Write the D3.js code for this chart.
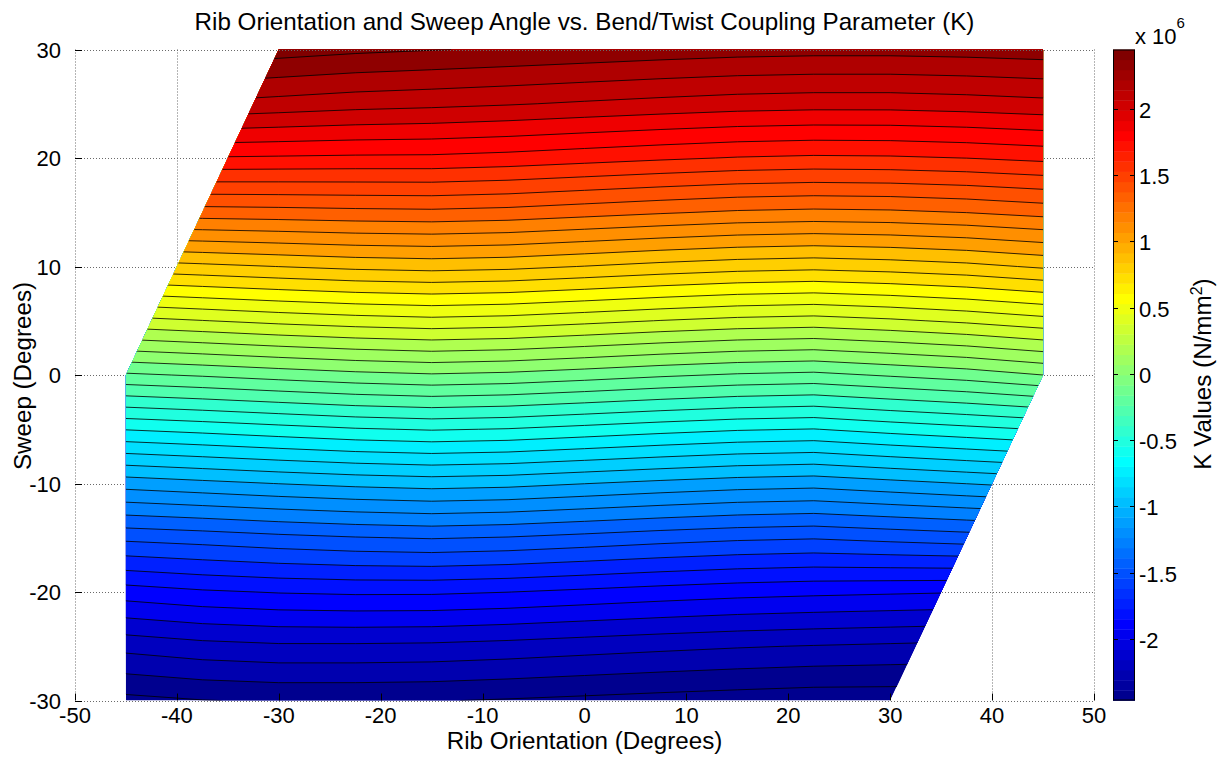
<!DOCTYPE html>
<html>
<head>
<meta charset="utf-8">
<script src="https://cdn.jsdelivr.net/npm/d3@7"></script>
<style>
  body { margin: 0; background: #fff; }
  text { font-family: "Liberation Sans", Arial, Helvetica, sans-serif; fill: #000; }
</style>
</head>
<body>
<svg id="chart" width="1224" height="760"></svg>
<script>
// Grid axes of the K table
const ribAngles   = [-45, -37.5, -30, -22.5, -15, -7.5, 0, 7.5, 15, 22.5, 30, 37.5, 45];
const sweepAngles = [-30, -25, -20, -15, -10, -5, 0, 5, 10, 15, 20, 25, 30];

// K values (x10^6 N/mm^2), one row per sweep angle, one entry per rib angle.
// null = rib/sweep combination outside the analysed range.
const kSweepM30 = [-2.429, -2.403, -2.390, -2.390, -2.395, -2.408, -2.423, -2.438, -2.451, -2.463, -2.463, null, null];
const kSweepM25 = [-2.167, -2.133, -2.116, -2.116, -2.121, -2.136, -2.156, -2.175, -2.192, -2.205, -2.216, null, null];
const kSweepM20 = [-1.848, -1.814, -1.794, -1.784, -1.785, -1.799, -1.821, -1.844, -1.864, -1.877, -1.887, null, null];
const kSweepM15 = [-1.476, -1.454, -1.427, -1.406, -1.393, -1.406, -1.431, -1.458, -1.480, -1.492, -1.469, -1.446, null];
const kSweepM10 = [-1.055, -1.026, -0.998, -0.974, -0.958, -0.970, -0.998, -1.026, -1.051, -1.064, -1.031, -0.998, null];
const kSweepM5  = [-0.595, -0.568, -0.538, -0.509, -0.492, -0.505, -0.534, -0.564, -0.590, -0.603, -0.564, -0.529, null];
const kSweep0   = [-0.116, -0.089, -0.058, -0.029, -0.010, -0.024, -0.053, -0.085, -0.111, -0.125, -0.089, -0.053, 0.000];
const kSweep5   = [null, 0.397, 0.428, 0.453, 0.470, 0.457, 0.428, 0.397, 0.371, 0.358, 0.384, 0.419, 0.464];
const kSweep10  = [null, 0.876, 0.901, 0.925, 0.937, 0.925, 0.897, 0.867, 0.842, 0.829, 0.846, 0.872, 0.914];
const kSweep15  = [null, 1.354, 1.362, 1.372, 1.378, 1.365, 1.338, 1.311, 1.287, 1.276, 1.283, 1.303, 1.335];
const kSweep20  = [null, null, 1.787, 1.781, 1.779, 1.763, 1.739, 1.715, 1.694, 1.683, 1.687, 1.701, 1.725];
const kSweep25  = [null, null, 2.162, 2.139, 2.125, 2.108, 2.087, 2.067, 2.049, 2.040, 2.040, 2.052, 2.070];
const kSweep30  = [null, null, 2.446, 2.421, 2.404, 2.388, 2.372, 2.355, 2.341, 2.334, 2.334, 2.341, 2.353];

// Boundary of the analysed rib/sweep region
const regionRib   = [-45, 30, 45, 45, -30, -45];
const regionSweep = [-30, -30, 0, 30, 30, 0];

// Axis ticks
const xTicks  = [-50, -40, -30, -20, -10, 0, 10, 20, 30, 40, 50];
const yTicks  = [-30, -20, -10, 0, 10, 20, 30];
const cbTicks = [-2, -1.5, -1, -0.5, 0, 0.5, 1, 1.5, 2];

// Contour levels (x10^6), evenly spaced
const levelStep = 0.1;
const levelMin = -2.4, levelMax = 2.4;

const kRows = [kSweepM30, kSweepM25, kSweepM20, kSweepM15, kSweepM10, kSweepM5,
               kSweep0, kSweep5, kSweep10, kSweep15, kSweep20, kSweep25, kSweep30];

// ---------------------------------------------------------------------------
const svg = d3.select("#chart");
const plot = { left: 75, right: 1094, top: 49.5, bottom: 700.5 };

const x = d3.scaleLinear().domain([-50, 50]).range([plot.left, plot.right]);
const y = d3.scaleLinear().domain([-30, 30]).range([plot.bottom, plot.top]);

// MATLAB-style jet colormap with 64 entries
function jet64(i) {
  const n = i + 1;
  const r = n <= 24 ? 0 : n <= 40 ? (n - 24) / 16 : n <= 56 ? 1 : (72 - n) / 16;
  const g = n <= 8 ? 0 : n <= 24 ? (n - 8) / 16 : n <= 40 ? 1 : n <= 56 ? (56 - n) / 16 : 0;
  const b = n <= 8 ? (n + 8) / 16 : n <= 24 ? 1 : n <= 40 ? (40 - n) / 16 : 0;
  return d3.rgb(Math.round(r * 255), Math.round(g * 255), Math.round(b * 255)).formatHex();
}

const allK = kRows.flat().filter(v => v != null);
const zMin = d3.min(allK), zMax = d3.max(allK);
const colorIndex = v => Math.max(0, Math.min(63, Math.floor((v - zMin) / (zMax - zMin) * 64)));

// Pad the cells outside the region (clipped later) so the contour tracer has a full grid
function padRow(row) {
  const out = row.slice();
  const valid = row.map((v, i) => (v == null ? -1 : i)).filter(i => i >= 0);
  const first = valid[0], last = valid[valid.length - 1];
  for (let i = first - 1; i >= 0; i--) out[i] = 2 * out[i + 1] - out[i + 2];
  for (let i = last + 1; i < row.length; i++) out[i] = 2 * out[i - 1] - out[i - 2];
  return out;
}
const nx = ribAngles.length, ny = sweepAngles.length;
const gridValues = kRows.map(padRow).flat();

const levels = d3.range(Math.round((levelMax - levelMin) / levelStep) + 1)
  .map(k => +(levelMin + k * levelStep).toFixed(3));

const contours = d3.contours().size([nx, ny]).thresholds(levels)(gridValues);

// grid coordinates -> data -> pixels
const ribStep = ribAngles[1] - ribAngles[0];
const sweepStep = sweepAngles[1] - sweepAngles[0];
const gridProjection = d3.geoTransform({
  point(gx, gy) {
    const rib = ribAngles[0] + (gx - 0.5) * ribStep;
    const sw = sweepAngles[0] + (gy - 0.5) * sweepStep;
    this.stream.point(x(rib), y(sw));
  }
});
const path = d3.geoPath(gridProjection);

// ---------------------------------------------------------------------------
// grid (dotted)
const grid = svg.append("g").attr("stroke", "#6a6a6a").attr("stroke-width", 1)
  .attr("stroke-dasharray", "1,2").attr("fill", "none");
xTicks.forEach(t => grid.append("line")
  .attr("x1", Math.round(x(t)) + 0.5).attr("x2", Math.round(x(t)) + 0.5)
  .attr("y1", plot.top).attr("y2", plot.bottom));
yTicks.forEach(t => grid.append("line")
  .attr("x1", plot.left).attr("x2", plot.right)
  .attr("y1", Math.round(y(t)) + 0.5).attr("y2", Math.round(y(t)) + 0.5));

// clip to analysed region
const regionPts = regionRib.map((r, i) => [x(r), y(regionSweep[i])]);
svg.append("clipPath").attr("id", "region")
  .append("path").attr("d", "M" + regionPts.map(p => p.join(",")).join("L") + "Z");

const field = svg.append("g").attr("clip-path", "url(#region)");

// base band (values below the lowest level)
field.append("path")
  .attr("d", "M" + regionPts.map(p => p.join(",")).join("L") + "Z")
  .attr("fill", jet64(0));

// filled bands
field.selectAll("path.band")
  .data(contours)
  .join("path")
  .attr("class", "band")
  .attr("d", path)
  .attr("fill", d => jet64(colorIndex(d.value)))
  .attr("stroke", d => jet64(colorIndex(d.value)))
  .attr("stroke-width", 0.4);

// contour lines
field.selectAll("path.iso")
  .data(contours)
  .join("path")
  .attr("class", "iso")
  .attr("d", path)
  .attr("fill", "none")
  .attr("stroke", "#000")
  .attr("stroke-width", 0.9)
  .attr("stroke-opacity", 0.9);

// plot frame (dotted, like the grid) drawn over the field
const frame = svg.append("g").attr("stroke", "#6a6a6a").attr("stroke-width", 1)
  .attr("stroke-dasharray", "1,2").attr("fill", "none");
frame.append("line").attr("x1", plot.left).attr("x2", plot.right)
  .attr("y1", Math.round(plot.bottom) + 0.5).attr("y2", Math.round(plot.bottom) + 0.5);
frame.append("line").attr("x1", plot.left).attr("x2", plot.right)
  .attr("y1", Math.round(plot.top) + 0.5).attr("y2", Math.round(plot.top) + 0.5);

// tick marks
const ticks = svg.append("g").attr("stroke", "#000").attr("stroke-width", 1);
xTicks.forEach(t => ticks.append("line")
  .attr("x1", Math.round(x(t)) + 0.5).attr("x2", Math.round(x(t)) + 0.5)
  .attr("y1", plot.bottom).attr("y2", plot.bottom - 7));
yTicks.forEach(t => ticks.append("line")
  .attr("x1", plot.left).attr("x2", plot.left + 7)
  .attr("y1", Math.round(y(t)) + 0.5).attr("y2", Math.round(y(t)) + 0.5));

// tick labels
const tickFont = 22;
svg.append("g").selectAll("text").data(xTicks).join("text")
  .attr("x", d => x(d)).attr("y", 723)
  .attr("text-anchor", "middle").attr("font-size", tickFont)
  .text(d => d);
svg.append("g").selectAll("text").data(yTicks).join("text")
  .attr("x", 61).attr("y", d => y(d) + 8)
  .attr("text-anchor", "end").attr("font-size", tickFont)
  .text(d => d);

// titles
svg.append("text").attr("x", 584.5).attr("y", 30).attr("text-anchor", "middle")
  .attr("font-size", 24.2)
  .text("Rib Orientation and Sweep Angle vs. Bend/Twist Coupling Parameter (K)");
svg.append("text").attr("x", 584.5).attr("y", 749).attr("text-anchor", "middle")
  .attr("font-size", 24.2).text("Rib Orientation (Degrees)");
svg.append("text").attr("transform", "translate(31,376) rotate(-90)")
  .attr("text-anchor", "middle").attr("font-size", 24.2).text("Sweep (Degrees)");

// ---------------------------------------------------------------------------
// colorbar
const cb = { left: 1113, right: 1135, top: plot.top, bottom: plot.bottom };
const cy = d3.scaleLinear().domain([zMin, zMax]).range([cb.bottom, cb.top]);
const cbg = svg.append("g");
d3.range(64).forEach(i => {
  const v0 = zMin + (zMax - zMin) * i / 64, v1 = zMin + (zMax - zMin) * (i + 1) / 64;
  cbg.append("rect")
    .attr("x", cb.left).attr("width", cb.right - cb.left)
    .attr("y", cy(v1)).attr("height", cy(v0) - cy(v1) + 0.4)
    .attr("fill", jet64(i));
});
cbg.append("rect").attr("x", cb.left + 0.5).attr("y", cb.top + 0.5)
  .attr("width", cb.right - cb.left - 1).attr("height", cb.bottom - cb.top - 1)
  .attr("fill", "none").attr("stroke", "#000").attr("stroke-width", 1);
cbTicks.forEach(t => {
  const ty = Math.round(cy(t)) + 0.5;
  cbg.append("line").attr("x1", cb.left).attr("x2", cb.left + 5).attr("y1", ty).attr("y2", ty)
    .attr("stroke", "#000");
  cbg.append("line").attr("x1", cb.right - 5).attr("x2", cb.right).attr("y1", ty).attr("y2", ty)
    .attr("stroke", "#000");
  cbg.append("text").attr("x", cb.right + 4).attr("y", ty + 8)
    .attr("font-size", tickFont).text(t);
});
// exponent
const expo = svg.append("text").attr("x", 1135).attr("y", 44).attr("font-size", tickFont);
expo.append("tspan").text("x 10");
expo.append("tspan").attr("dy", -16).attr("font-size", 15).text("6");

// colorbar label
const cbl = svg.append("text").attr("transform", "translate(1211,374) rotate(-90)")
  .attr("text-anchor", "middle").attr("font-size", 24.2);
cbl.append("tspan").text("K Values (N/mm");
cbl.append("tspan").attr("dy", -9).attr("font-size", 16).text("2");
cbl.append("tspan").attr("dy", 9).text(")");
</script>
</body>
</html>
